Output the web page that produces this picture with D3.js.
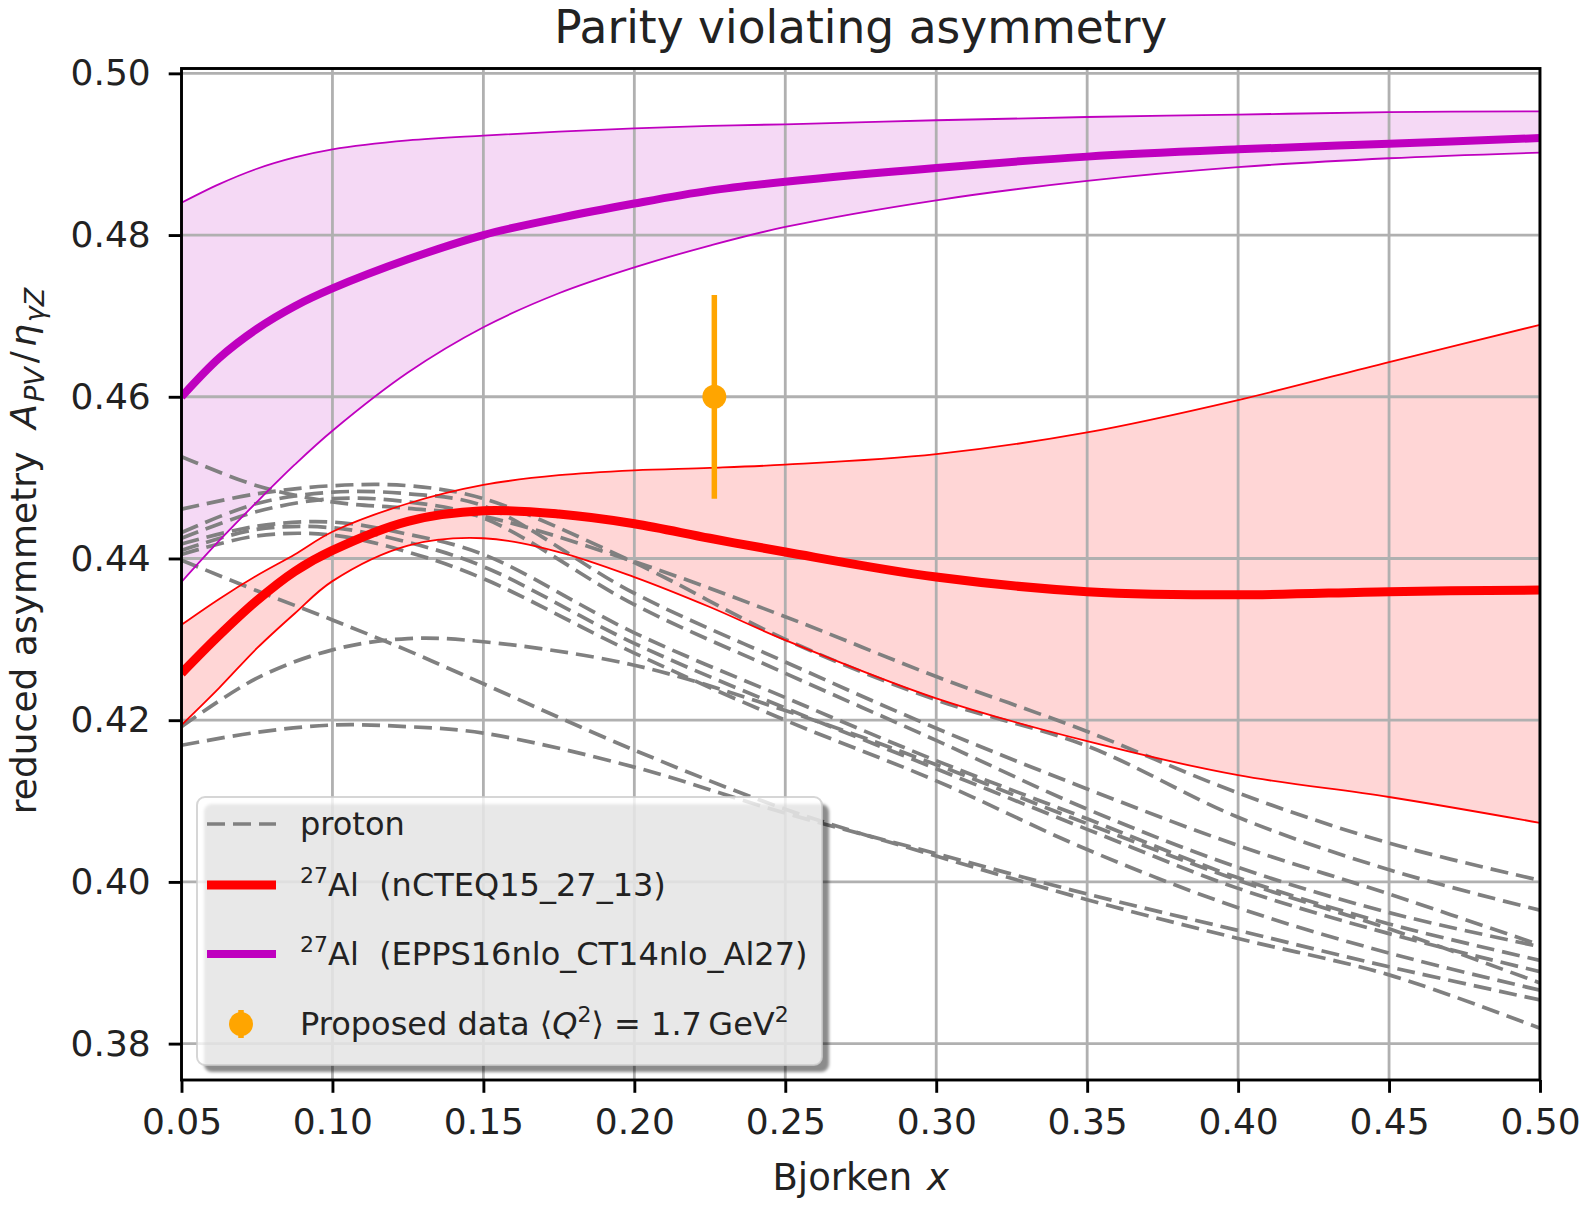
<!DOCTYPE html>
<html>
<head>
<meta charset="utf-8">
<script src="https://cdn.jsdelivr.net/npm/d3@7"></script>
<style>
  body { margin: 0; background: #fff; }
  text { font-family: "DejaVu Sans", sans-serif; white-space: pre; fill: #222; }
</style>
</head>
<body>
<div id="container"></div>
<script>
/* CONSTANTS */
const width = 1586,
      height = 1209,
      margin = {top: 68.5, bottom: 129, left: 181.5, right: 46};

/* DATA */
const xTicks = [0.05, 0.10, 0.15, 0.20, 0.25, 0.30, 0.35, 0.40, 0.45, 0.50];
const yTicks = [0.38, 0.40, 0.42, 0.44, 0.46, 0.48, 0.50];

// x grid for the two nuclear bands
const bandX = [0.05, 0.0625, 0.075, 0.0875, 0.10, 0.125, 0.15, 0.175, 0.20, 0.225, 0.25, 0.30, 0.35, 0.40, 0.45, 0.50];

// EPPS16nlo_CT14nlo_Al27
const eppsMid   = [0.4600, 0.4648, 0.4684, 0.4712, 0.4734, 0.4770, 0.4800, 0.4821, 0.4839, 0.4855, 0.4866, 0.4883, 0.4897, 0.4906, 0.4913, 0.4920];
const eppsUpper = [0.4840, 0.4863, 0.4882, 0.4896, 0.4906, 0.4917, 0.4923, 0.4928, 0.4932, 0.4935, 0.4937, 0.4942, 0.4946, 0.4949, 0.4952, 0.4953];
const eppsLower = [0.4371, 0.4422, 0.4470, 0.4516, 0.4558, 0.4630, 0.4686, 0.4728, 0.4760, 0.4787, 0.4810, 0.4843, 0.4867, 0.4884, 0.4895, 0.4902];

// nCTEQ15_27_13
const ncteqMid   = [0.4258, 0.4305, 0.4348, 0.4384, 0.4410, 0.4446, 0.4459, 0.4455, 0.4443, 0.4425, 0.4408, 0.4377, 0.4359, 0.4355, 0.4359, 0.4361];
const ncteqUpper = [0.4318, 0.4350, 0.4379, 0.4405, 0.4433, 0.4468, 0.4491, 0.4503, 0.4509, 0.4512, 0.4516, 0.4529, 0.4556, 0.4596, 0.4643, 0.4689];
const ncteqLower = [0.4194, 0.4240, 0.4289, 0.4332, 0.4372, 0.4416, 0.4425, 0.4408, 0.4377, 0.4340, 0.4299, 0.4227, 0.4174, 0.4132, 0.4105, 0.4073];

// proton curves
const protonX = [0.05, 0.075, 0.10, 0.125, 0.15, 0.20, 0.25, 0.30, 0.35, 0.40, 0.45, 0.50];
const proton1  = [0.4526, 0.4490, 0.4470, 0.4462, 0.4452, 0.4396, 0.4328, 0.4254, 0.4186, 0.4110, 0.4048, 0.4002];
const proton2  = [0.4461, 0.4480, 0.4490, 0.4490, 0.4474, 0.4395, 0.4300, 0.4225, 0.4168, 0.4080, 0.4015, 0.3965];
const proton3  = [0.4432, 0.4468, 0.4482, 0.4480, 0.4465, 0.4357, 0.4272, 0.4190, 0.4115, 0.4045, 0.3985, 0.3922];
const proton4  = [0.4425, 0.4458, 0.4474, 0.4470, 0.4450, 0.4343, 0.4258, 0.4175, 0.4090, 0.4018, 0.3962, 0.3920];
const proton5  = [0.4418, 0.4440, 0.4445, 0.4430, 0.4405, 0.4308, 0.4228, 0.4150, 0.4078, 0.4005, 0.3948, 0.3903];
const proton6  = [0.4410, 0.4436, 0.4438, 0.4420, 0.4390, 0.4295, 0.4215, 0.4140, 0.4065, 0.3992, 0.3936, 0.3889];
const proton7  = [0.4405, 0.4428, 0.4429, 0.4408, 0.4375, 0.4283, 0.4200, 0.4125, 0.4040, 0.3968, 0.3912, 0.3866];
const proton8  = [0.4192, 0.4252, 0.4287, 0.4301, 0.4297, 0.4268, 0.4212, 0.4145, 0.4072, 0.4002, 0.3942, 0.3875];
const proton9  = [0.4398, 0.4360, 0.4324, 0.4286, 0.4245, 0.4163, 0.4090, 0.4032, 0.3978, 0.3930, 0.3885, 0.3819];
const proton10 = [0.4169, 0.4185, 0.4194, 0.4192, 0.4184, 0.4142, 0.4085, 0.4035, 0.3985, 0.3940, 0.3895, 0.3854];
const protonCurves = [proton1, proton2, proton3, proton4, proton5, proton6, proton7, proton8, proton9, proton10];

// proposed data point
const dataX = [0.2265];
const dataY = [0.4600];
const dataErr = [0.0126];

/* SCALES */
const xScale = d3.scaleLinear()
  .domain([0.05, 0.50])
  .range([margin.left, width - margin.right]);

const yScale = d3.scaleLinear()
  .domain([0.3755, 0.5006])
  .range([height - margin.bottom, margin.top]);

/* SVG */
const svg = d3.select("#container")
  .append("svg")
  .attr("width", width)
  .attr("height", height);

const defs = svg.append("defs");
defs.append("clipPath").attr("id", "plot")
  .append("rect")
  .attr("x", margin.left).attr("y", margin.top)
  .attr("width", width - margin.left - margin.right)
  .attr("height", height - margin.top - margin.bottom);
defs.append("filter").attr("id", "soft")
  .append("feGaussianBlur").attr("stdDeviation", 1.6);

const plot = svg.append("g").attr("clip-path", "url(#plot)");

// bands
const band = (lo, hi) => d3.area()
  .x((d, i) => xScale(bandX[i]))
  .y0((d, i) => yScale(lo[i]))
  .y1((d, i) => yScale(hi[i]))
  .curve(d3.curveCatmullRom.alpha(0.5))(bandX);

plot.append("path").attr("d", band(eppsLower, eppsUpper))
  .attr("fill", "#bf00bf").attr("fill-opacity", 0.15);
plot.append("path").attr("d", band(ncteqLower, ncteqUpper))
  .attr("fill", "#ff0000").attr("fill-opacity", 0.16);

// grid
plot.selectAll(".gx").data(xTicks).join("line")
  .attr("x1", d => xScale(d)).attr("x2", d => xScale(d))
  .attr("y1", margin.top).attr("y2", height - margin.bottom)
  .attr("stroke", "#b0b0b0").attr("stroke-width", 2.8);
plot.selectAll(".gy").data(yTicks).join("line")
  .attr("y1", d => yScale(d)).attr("y2", d => yScale(d))
  .attr("x1", margin.left).attr("x2", width - margin.right)
  .attr("stroke", "#b0b0b0").attr("stroke-width", 2.8);

// lines
const lineOn = xs => d3.line()
  .x((d, i) => xScale(xs[i]))
  .y(d => yScale(d))
  .curve(d3.curveCatmullRom.alpha(0.5));

plot.selectAll(".proton").data(protonCurves).join("path")
  .attr("d", lineOn(protonX))
  .attr("fill", "none")
  .attr("stroke", "#808080")
  .attr("stroke-width", 3.7)
  .attr("stroke-dasharray", "18,8");

[[eppsUpper, "#bf00bf"], [eppsLower, "#bf00bf"], [ncteqUpper, "#ff0000"], [ncteqLower, "#ff0000"]]
  .forEach(([vals, c]) => {
    plot.append("path").attr("d", lineOn(bandX)(vals))
      .attr("fill", "none").attr("stroke", c).attr("stroke-width", 1.8);
  });

plot.append("path").attr("d", lineOn(bandX)(ncteqMid))
  .attr("fill", "none").attr("stroke", "#ff0000").attr("stroke-width", 9);
plot.append("path").attr("d", lineOn(bandX)(eppsMid))
  .attr("fill", "none").attr("stroke", "#bf00bf").attr("stroke-width", 8);

// proposed data
const pts = dataX.map((x, i) => ({x: x, y: dataY[i], e: dataErr[i]}));
plot.selectAll(".err").data(pts).join("line")
  .attr("x1", d => xScale(d.x)).attr("x2", d => xScale(d.x))
  .attr("y1", d => yScale(d.y - d.e)).attr("y2", d => yScale(d.y + d.e))
  .attr("stroke", "#ffa500").attr("stroke-width", 5.5);
plot.selectAll(".pt").data(pts).join("circle")
  .attr("cx", d => xScale(d.x)).attr("cy", d => yScale(d.y))
  .attr("r", 12).attr("fill", "#ffa500");

/* AXES */
const xAxis = d3.axisBottom(xScale).tickValues(xTicks)
  .tickFormat(d3.format(".2f")).tickSize(12.8).tickPadding(16);
const yAxis = d3.axisLeft(yScale).tickValues(yTicks)
  .tickFormat(d3.format(".2f")).tickSize(12.8).tickPadding(18);

const gx = svg.append("g")
  .attr("transform", `translate(0, ${height - margin.bottom})`)
  .call(xAxis);
const gy = svg.append("g")
  .attr("transform", `translate(${margin.left}, 0)`)
  .call(yAxis);

[gx, gy].forEach(g => {
  g.select(".domain").remove();
  g.selectAll("line").attr("stroke", "#000").attr("stroke-width", 2.9);
  g.selectAll("text").attr("font-size", 36).attr("font-family", "DejaVu Sans").attr("fill", "#222");
});

// frame
svg.append("rect")
  .attr("x", margin.left).attr("y", margin.top)
  .attr("width", width - margin.left - margin.right)
  .attr("height", height - margin.top - margin.bottom)
  .attr("fill", "none").attr("stroke", "#000").attr("stroke-width", 2.9);

/* TITLES */
const midX = (margin.left + width - margin.right) / 2;

svg.append("text")
  .attr("x", midX).attr("y", 43)
  .attr("text-anchor", "middle")
  .attr("font-size", 45.5)
  .text("Parity violating asymmetry");

const xl = svg.append("text")
  .attr("x", midX).attr("y", 1190)
  .attr("text-anchor", "middle")
  .attr("font-size", 37);
xl.append("tspan").text("Bjorken ");
xl.append("tspan").attr("font-style", "italic").attr("dx", 3).text("x");

const yl = svg.append("text")
  .attr("transform", "translate(36, 551) rotate(-90)")
  .attr("text-anchor", "middle")
  .attr("font-size", 36);
yl.append("tspan").text("reduced asymmetry  ");
yl.append("tspan").attr("font-style", "italic").text("A");
yl.append("tspan").attr("font-style", "italic").attr("font-size", 27).attr("dx", 2).attr("dy", 8).text("PV");
yl.append("tspan").attr("dx", 4).attr("dy", -8).text("/");
yl.append("tspan").attr("font-style", "italic").attr("dx", 4).text("η");
yl.append("tspan").attr("font-style", "italic").attr("font-size", 27).attr("dx", 2).attr("dy", 8).text("γZ");

/* LEGEND */
const lg = svg.append("g");
// shadow, then a translucent white frame over it (gives the grey face)
lg.append("rect")
  .attr("x", 204).attr("y", 804).attr("width", 625).attr("height", 268).attr("rx", 8)
  .attr("fill", "#000").attr("fill-opacity", 0.45)
  .attr("filter", "url(#soft)");
lg.append("rect")
  .attr("x", 197).attr("y", 797).attr("width", 625).attr("height", 268).attr("rx", 8)
  .attr("fill", "#ffffff").attr("fill-opacity", 0.8)
  .attr("stroke", "#cccccc").attr("stroke-opacity", 0.8).attr("stroke-width", 2);

const rows = [824, 885, 954, 1024];
lg.append("line").attr("x1", 207).attr("x2", 276).attr("y1", rows[0]).attr("y2", rows[0])
  .attr("stroke", "#808080").attr("stroke-width", 3.7).attr("stroke-dasharray", "18,8");
lg.append("line").attr("x1", 207).attr("x2", 276).attr("y1", rows[1]).attr("y2", rows[1])
  .attr("stroke", "#ff0000").attr("stroke-width", 9);
lg.append("line").attr("x1", 207).attr("x2", 276).attr("y1", rows[2]).attr("y2", rows[2])
  .attr("stroke", "#bf00bf").attr("stroke-width", 8);
lg.append("line").attr("x1", 241).attr("x2", 241).attr("y1", rows[3] - 14).attr("y2", rows[3] + 14)
  .attr("stroke", "#ffa500").attr("stroke-width", 5.5);
lg.append("circle").attr("cx", 241).attr("cy", rows[3]).attr("r", 12).attr("fill", "#ffa500");

const lt = (y) => lg.append("text").attr("x", 300).attr("y", y + 11).attr("font-size", 32);
lt(rows[0]).text("proton");

const t1 = lt(rows[1]);
t1.append("tspan").attr("font-size", 22).attr("dy", -13).text("27");
t1.append("tspan").attr("dy", 13).text("Al  (nCTEQ15_27_13)");

const t2 = lt(rows[2]);
t2.append("tspan").attr("font-size", 22).attr("dy", -13).text("27");
t2.append("tspan").attr("dy", 13).text("Al  (EPPS16nlo_CT14nlo_Al27)");

const t3 = lt(rows[3]);
t3.append("tspan").text("Proposed data \u27E8");
t3.append("tspan").attr("font-style", "italic").text("Q");
t3.append("tspan").attr("font-size", 22).attr("dy", -13).text("2");
t3.append("tspan").attr("dy", 13).text("\u27E9 = 1.7\u2009GeV");
t3.append("tspan").attr("font-size", 22).attr("dy", -13).text("2");
</script>
</body>
</html>
